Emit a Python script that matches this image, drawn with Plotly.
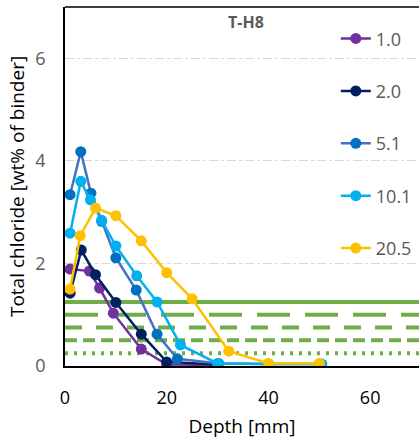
import plotly.graph_objects as go

# ---- data ----
series_names = ["1.0", "2.0", "5.1", "10.1", "20.5"]

depth_1_0 = [1, 4.8, 6.8, 9.5, 15, 20, 30]
cl_1_0 = [1.89, 1.85, 1.52, 1.03, 0.33, 0.03, 0.02]

depth_2_0 = [1, 3.2, 6, 10, 15, 20, 30]
cl_2_0 = [1.42, 2.26, 1.78, 1.24, 0.62, 0.08, 0.03]

depth_5_1 = [1, 3.1, 5.1, 7.2, 10, 14, 18.1, 22.1, 30.2, 40, 50]
cl_5_1 = [3.34, 4.18, 3.37, 2.82, 2.11, 1.48, 0.62, 0.14, 0.05, 0.04, 0.04]

depth_10_1 = [1, 3.1, 5, 7.2, 10, 14.1, 18.1, 22.7, 30, 40, 50.5]
cl_10_1 = [2.59, 3.6, 3.24, 2.84, 2.34, 1.76, 1.25, 0.41, 0.05, 0.04, 0.04]

depth_20_5 = [1, 3, 6, 10, 15, 20, 25, 32.2, 40, 50]
cl_20_5 = [1.5, 2.54, 3.08, 2.93, 2.44, 1.82, 1.31, 0.29, 0.05, 0.05]

threshold_levels = [1.25, 1.0, 0.75, 0.5, 0.25]

x_ticks = [0, 20, 40, 60]
y_ticks = [0, 2, 4, 6]

line_colors = ["#7030A0", "#002060", "#4472C4", "#00B0F0", "#FFC000"]
marker_colors = ["#7030A0", "#002060", "#0070C0", "#00B0F0", "#FFC000"]
threshold_dashes = ["solid", "33px,15px", "17px,14px", "12px,6px", "3px,6px"]

FONT = "Open Sans"

fig = go.Figure()

all_x = [depth_1_0, depth_2_0, depth_5_1, depth_10_1, depth_20_5]
all_y = [cl_1_0, cl_2_0, cl_5_1, cl_10_1, cl_20_5]

for i, name in enumerate(series_names):
    fig.add_trace(go.Scatter(
        x=all_x[i], y=all_y[i], name=name, mode="lines+markers",
        line=dict(color=line_colors[i], width=2.5),
        marker=dict(color=marker_colors[i], size=11),
        legendgroup=name,
    ))

for lvl, dash in zip(threshold_levels, threshold_dashes):
    fig.add_shape(type="line", xref="paper", x0=0, x1=1, yref="y", y0=lvl, y1=lvl,
                  line=dict(color="#70AD47", width=4, dash=dash), layer="below")

# top border
fig.add_shape(type="line", xref="paper", x0=0, x1=1, yref="paper", y0=1, y1=1,
              line=dict(color="black", width=1.5))

fig.add_annotation(text="<b>T-H8</b>", xref="paper", yref="paper",
                   x=0.511, y=0.958, xanchor="center", yanchor="middle",
                   showarrow=False, font=dict(family=FONT, size=16, color="#595959"))

fig.update_layout(
    width=419, height=443,
    margin=dict(l=65, r=0, t=7, b=77),
    plot_bgcolor="white", paper_bgcolor="white",
    font=dict(family=FONT),
    legend=dict(x=0.765, y=0.963, xanchor="left", yanchor="top",
                font=dict(size=18, color="#595959"),
                tracegroupgap=26, bgcolor="rgba(0,0,0,0)"),
    xaxis=dict(range=[0, 69.6], tickvals=x_ticks,
               showline=True, linecolor="black", linewidth=1.5,
               showgrid=False, zeroline=False, ticks="",
               ticklabelstandoff=15,
               tickfont=dict(size=18, color="black"),
               title=dict(text="Depth [mm]", font=dict(size=19, color="black"), standoff=11)),
    yaxis=dict(range=[0, 7], tickvals=y_ticks,
               showline=True, linecolor="black", linewidth=1.5,
               showgrid=True, gridcolor="#D9D9D9", griddash="dashdot", gridwidth=1,
               zeroline=False, ticks="",
               ticklabelstandoff=14,
               tickfont=dict(size=18, color="#595959"),
               title=dict(text="Total chloride [wt% of binder]", font=dict(size=19, color="black"), standoff=6)),
)

fig.write_html("out.html", config={"displayModeBar": False},
               post_script="document.body.style.margin='0';")
